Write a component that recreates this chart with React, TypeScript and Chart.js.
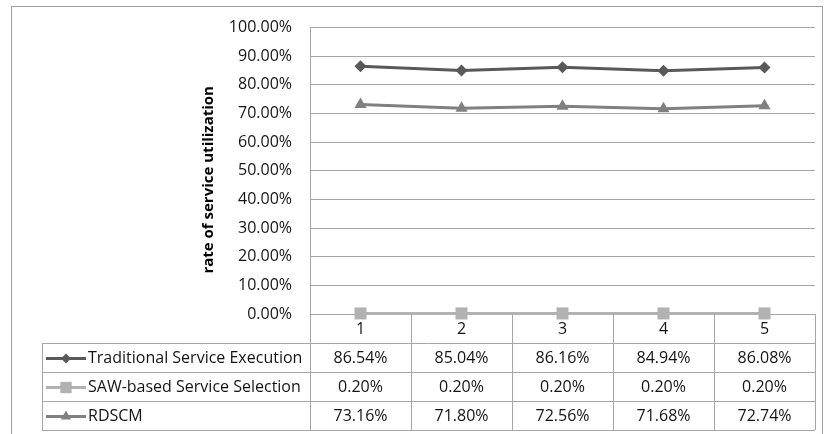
import React, { useEffect, useRef } from "react";
import { Chart, registerables } from "chart.js";

Chart.register(...registerables);

// Runs (x categories) and utilization rates in percent
const categories = ["1", "2", "3", "4", "5"];
const seriesNames = [
  "Traditional Service Execution",
  "SAW-based Service Selection",
  "RDSCM",
];
const traditionalExecution = [86.54, 85.04, 86.16, 84.94, 86.08];
const sawBasedSelection = [0.2, 0.2, 0.2, 0.2, 0.2];
const rdscm = [73.16, 71.8, 72.56, 71.68, 72.74];
const yAxisTitle = "rate of service utilization";

const FONT = "'Open Sans', sans-serif";
const TEXT = "#141414";
const GRID = "#a6a6a6";
const FRAME = "#a0a0a0";
const LABEL_SIZE = 16;

const seriesStyles = [
  { color: "#595959", pointStyle: "rectRot", radius: 6 },
  { color: "#b2b2b2", pointStyle: "rect", radius: 8.5 },
  { color: "#808080", pointStyle: "triangle", radius: 7 },
];
const seriesData = [traditionalExecution, sawBasedSelection, rdscm];

const fmt = (v: number) => v.toFixed(2) + "%";

// legend-key marker, same shapes as the line points
function marker(ctx: CanvasRenderingContext2D, style: string, r: number, x: number, y: number) {
  ctx.beginPath();
  if (style === "rectRot") {
    ctx.moveTo(x, y - r);
    ctx.lineTo(x + r, y);
    ctx.lineTo(x, y + r);
    ctx.lineTo(x - r, y);
  } else if (style === "rect") {
    const s = r * Math.SQRT1_2;
    ctx.rect(x - s, y - s, 2 * s, 2 * s);
  } else {
    const half = r * Math.sin(Math.PI / 3);
    ctx.moveTo(x, y - r);
    ctx.lineTo(x + half, y + r / 2);
    ctx.lineTo(x - half, y + r / 2);
  }
  ctx.closePath();
  ctx.fill();
}

// Frame, y-axis title and the data table under the plot
const tablePlugin = {
  id: "dataTable",
  beforeDraw(chart: any) {
    const ctx = chart.ctx;
    ctx.save();
    ctx.fillStyle = "#ffffff";
    ctx.fillRect(0, 0, chart.width, chart.height);
    ctx.strokeStyle = FRAME;
    ctx.lineWidth = 1;
    ctx.strokeRect(11.5, 6.5, 811, 440);
    ctx.restore();
  },
  afterDraw(chart: any) {
    const ctx = chart.ctx;
    const area = chart.chartArea;
    const x = chart.scales.x;
    const n = categories.length;
    const colW = (area.right - area.left) / n;
    const rowH = 29;
    const top = area.bottom;
    const tableLeft = 42;
    const rows = seriesNames.length;
    const bottom = top + rowH * (rows + 1);

    ctx.save();
    ctx.strokeStyle = GRID;
    ctx.lineWidth = 1;
    ctx.beginPath();
    for (let i = 0; i <= n; i++) {
      const px = Math.round(area.left + colW * i) + 0.5;
      ctx.moveTo(px, top);
      ctx.lineTo(px, bottom);
    }
    ctx.moveTo(tableLeft + 0.5, top + rowH);
    ctx.lineTo(tableLeft + 0.5, bottom);
    for (let r = 1; r <= rows + 1; r++) {
      const py = Math.round(top + rowH * r) + 0.5;
      ctx.moveTo(tableLeft, py);
      ctx.lineTo(area.right, py);
    }
    ctx.stroke();

    ctx.fillStyle = TEXT;
    ctx.font = `${LABEL_SIZE}px ${FONT}`;
    ctx.textAlign = "center";
    ctx.textBaseline = "middle";
    categories.forEach((c, i) => {
      ctx.fillText(c, x.getPixelForValue(i), top + rowH / 2 + 1);
    });

    seriesNames.forEach((name, r) => {
      const cy = top + rowH * (r + 1) + rowH / 2 + 1;
      const st = seriesStyles[r];
      ctx.strokeStyle = st.color;
      ctx.lineWidth = 3;
      ctx.beginPath();
      ctx.moveTo(46, cy);
      ctx.lineTo(86, cy);
      ctx.stroke();
      ctx.fillStyle = st.color;
      marker(ctx, st.pointStyle, st.pointStyle === "rect" ? 8 : st.radius - 1, 66, cy);
      ctx.fillStyle = TEXT;
      ctx.textAlign = "left";
      ctx.fillText(name, 88, cy);
      ctx.textAlign = "center";
      seriesData[r].forEach((v, i) => {
        ctx.fillText(fmt(v), x.getPixelForValue(i), cy);
      });
    });

    ctx.translate(209, (area.top + area.bottom) / 2 + 9);
    ctx.rotate(-Math.PI / 2);
    ctx.font = `bold 15px ${FONT}`;
    ctx.fillStyle = "#000000";
    ctx.textAlign = "center";
    ctx.fillText(yAxisTitle, 0, 0);
    ctx.restore();
  },
};

export default function App() {
  const ref = useRef<HTMLCanvasElement>(null);

  useEffect(() => {
    if (!ref.current) return;
    const chart = new Chart(ref.current, {
      type: "line",
      data: {
        labels: categories,
        datasets: seriesNames.map((name, i) => ({
          label: name,
          data: seriesData[i],
          borderColor: seriesStyles[i].color,
          backgroundColor: seriesStyles[i].color,
          pointBackgroundColor: seriesStyles[i].color,
          pointBorderColor: seriesStyles[i].color,
          pointStyle: seriesStyles[i].pointStyle as any,
          pointRadius: seriesStyles[i].radius,
          pointBorderWidth: 0,
          borderWidth: 3,
          tension: 0,
          clip: false as any,
        })),
      },
      options: {
        responsive: false,
        animation: false,
        layout: { padding: { left: 0, top: 27, right: 9, bottom: 0 } },
        plugins: { legend: { display: false }, tooltip: { enabled: false } },
        scales: {
          x: {
            offset: true,
            grid: { display: false, drawTicks: false },
            border: { display: false },
            ticks: { display: false },
            afterFit: (s: any) => {
              s.height = 120;
            },
          },
          y: {
            min: 0,
            max: 100,
            ticks: {
              stepSize: 10,
              padding: 18,
              color: TEXT,
              font: { family: FONT, size: LABEL_SIZE },
              callback: (v: any) => fmt(Number(v)),
            },
            grid: { color: GRID, drawTicks: false, lineWidth: 1 },
            border: { display: true, color: GRID },
            afterFit: (s: any) => {
              s.width = 310;
            },
          },
        },
      },
      plugins: [tablePlugin],
    });
    return () => chart.destroy();
  }, []);

  return (
    <div style={{ position: "fixed", left: 0, top: 0, width: 824, height: 434, background: "#fff" }}>
      <canvas ref={ref} width={824} height={434} />
    </div>
  );
}
